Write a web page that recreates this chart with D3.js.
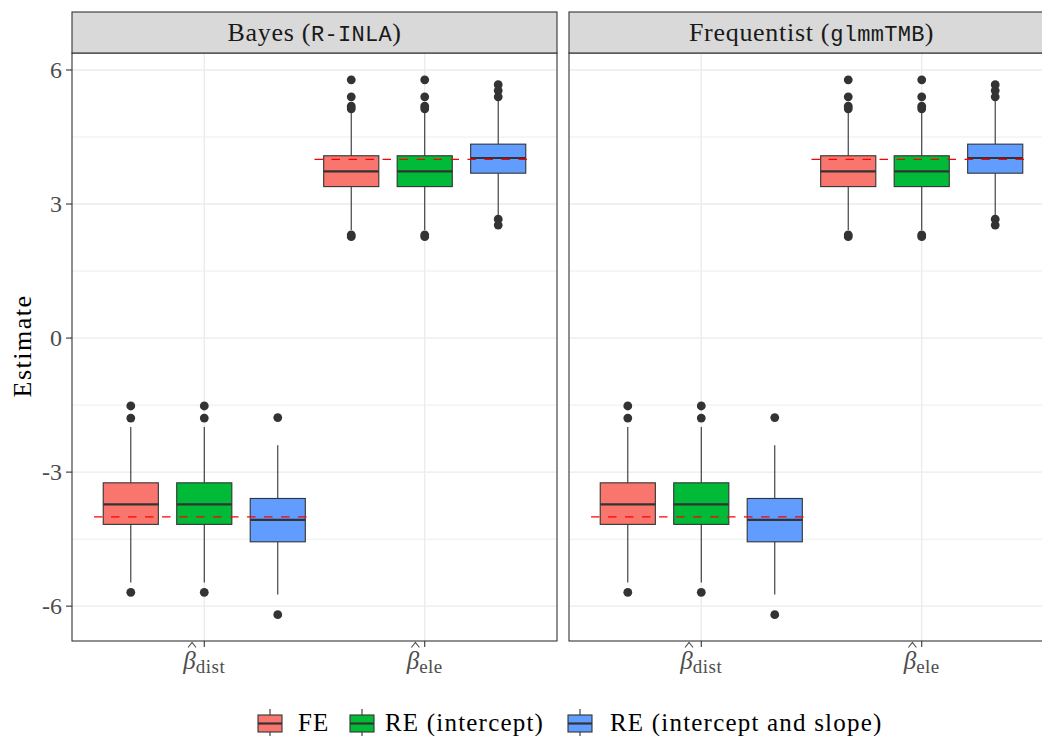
<!DOCTYPE html>
<html>
<head>
<meta charset="utf-8">
<script src="https://cdn.jsdelivr.net/npm/d3@7"></script>
<style>
  html, body { margin: 0; padding: 0; background: #fff; }
  svg { display: block; }
</style>
</head>
<body>
<svg id="chart" width="1042" height="736"></svg>
<script>
// ---------------- data ----------------
const panelTitles = ["Bayes (", "Frequentist ("];
const panelCodes = ["R-INLA", "glmmTMB"];
const categories = ["dist", "ele"];
const methods = ["FE", "RE (intercept)", "RE (intercept and slope)"];
const methodColors = ["#F8766D", "#00BA38", "#619CFF"];
const trueValues = [-4, 4];
const yTicks = [-6, -3, 0, 3, 6];
const yTickLabels = ["-6", "-3", "0", "3", "6"];
const yMinor = [-4.5, -1.5, 1.5, 4.5];

// box statistics per category (rows) and method (columns)
const whiskerLow = [[-5.47, -5.47, -5.74], [2.42, 2.42, 2.72]];
const q1 = [[-4.17, -4.17, -4.56], [3.39, 3.39, 3.69]];
const median = [[-3.72, -3.72, -4.07], [3.73, 3.73, 4.03]];
const q3 = [[-3.24, -3.24, -3.59], [4.08, 4.08, 4.34]];
const whiskerHigh = [[-1.99, -1.99, -2.40], [5.07, 5.07, 5.33]];
const outliers = [
  [[-1.52, -1.79, -5.69], [-1.52, -1.79, -5.69], [-1.78, -6.19]],
  [[5.78, 5.40, 5.19, 5.13, 2.31, 2.27], [5.78, 5.40, 5.19, 5.13, 2.31, 2.27], [5.67, 5.54, 5.40, 2.66, 2.53]]
];

// ---------------- layout ----------------
const svg = d3.select("#chart");
const serif = "'Liberation Serif', 'DejaVu Serif', serif";
const mono = "'Liberation Mono', 'DejaVu Sans Mono', monospace";
const panelTop = 53, panelBottom = 641, stripTop = 12, panelW = 485;
const panelX = [72, 569];

const y = d3.scaleLinear().domain([-6.78, 6.38]).range([panelBottom, panelTop]);

svg.append("rect").attr("width", 1042).attr("height", 736).attr("fill", "#fff");

panelX.forEach((x0, p) => {
  const x = d3.scaleLinear().domain([0.4, 2.6]).range([x0, x0 + panelW]);
  const unit = x(1) - x(0);
  const g = svg.append("g");

  g.append("rect").attr("x", x0).attr("y", panelTop).attr("width", panelW)
    .attr("height", panelBottom - panelTop).attr("fill", "#fff");

  // grid
  g.selectAll(".minor").data(yMinor).join("line")
    .attr("x1", x0).attr("x2", x0 + panelW)
    .attr("y1", d => y(d)).attr("y2", d => y(d))
    .attr("stroke", "#EBEBEB").attr("stroke-width", 0.9);
  g.selectAll(".major").data(yTicks).join("line")
    .attr("x1", x0).attr("x2", x0 + panelW)
    .attr("y1", d => y(d)).attr("y2", d => y(d))
    .attr("stroke", "#EBEBEB").attr("stroke-width", 1.3);
  g.selectAll(".vmajor").data(categories).join("line")
    .attr("x1", (d, i) => x(i + 1)).attr("x2", (d, i) => x(i + 1))
    .attr("y1", panelTop).attr("y2", panelBottom)
    .attr("stroke", "#EBEBEB").attr("stroke-width", 1.3);

  // boxes
  categories.forEach((c, ci) => {
    methods.forEach((m, mi) => {
      const cx = x(ci + 1 + (mi - 1) / 3);
      const hw = unit * 0.125;
      g.append("line").attr("x1", cx).attr("x2", cx)
        .attr("y1", y(q3[ci][mi])).attr("y2", y(whiskerHigh[ci][mi]))
        .attr("stroke", "#333").attr("stroke-width", 1.1);
      g.append("line").attr("x1", cx).attr("x2", cx)
        .attr("y1", y(q1[ci][mi])).attr("y2", y(whiskerLow[ci][mi]))
        .attr("stroke", "#333").attr("stroke-width", 1.1);
      g.append("rect").attr("x", cx - hw).attr("width", 2 * hw)
        .attr("y", y(q3[ci][mi])).attr("height", y(q1[ci][mi]) - y(q3[ci][mi]))
        .attr("fill", methodColors[mi]).attr("stroke", "#333").attr("stroke-width", 1.1);
      g.append("line").attr("x1", cx - hw).attr("x2", cx + hw)
        .attr("y1", y(median[ci][mi])).attr("y2", y(median[ci][mi]))
        .attr("stroke", "#333").attr("stroke-width", 2.2);
      g.selectAll(null).data(outliers[ci][mi]).join("circle")
        .attr("cx", cx).attr("cy", d => y(d)).attr("r", 4.4).attr("fill", "#333");
    });
    g.append("line").attr("x1", x(ci + 0.5)).attr("x2", x(ci + 1.5))
      .attr("y1", y(trueValues[ci])).attr("y2", y(trueValues[ci]))
      .attr("stroke", "#FF0000").attr("stroke-width", 1.2)
      .attr("stroke-dasharray", "8.5,8.5");
  });

  // panel border
  g.append("rect").attr("x", x0).attr("y", panelTop).attr("width", panelW)
    .attr("height", panelBottom - panelTop).attr("fill", "none")
    .attr("stroke", "#333").attr("stroke-width", 1.1);

  // strip
  g.append("rect").attr("x", x0).attr("y", stripTop).attr("width", panelW)
    .attr("height", panelTop - stripTop).attr("fill", "#D9D9D9")
    .attr("stroke", "#333").attr("stroke-width", 1.1);
  const st = g.append("text").attr("x", x0 + panelW / 2).attr("y", 41)
    .attr("text-anchor", "middle").attr("fill", "#1A1A1A")
    .attr("font-family", serif).attr("font-size", 26).attr("letter-spacing", 0.7);
  st.append("tspan").text(panelTitles[p]);
  st.append("tspan").attr("font-family", mono).attr("font-size", 22).attr("letter-spacing", 0.3).text(panelCodes[p]);
  st.append("tspan").text(")");

  // x ticks and labels
  categories.forEach((c, ci) => {
    const cx = x(ci + 1);
    g.append("line").attr("x1", cx).attr("x2", cx).attr("y1", panelBottom).attr("y2", panelBottom + 6)
      .attr("stroke", "#333").attr("stroke-width", 1.1);
    const t = g.append("text").attr("x", cx).attr("y", 669).attr("text-anchor", "middle")
      .attr("fill", "#4D4D4D").attr("font-family", serif).attr("font-size", 25);
    t.append("tspan").attr("font-style", "italic").text("\u03B2");
    t.append("tspan").attr("font-size", 19).attr("dy", 4).attr("letter-spacing", 0.5).text(c);
    const ext = t.node().getExtentOfChar(0);
    const hx = ext.x + ext.width / 2 + 2.5;
    g.append("path")
      .attr("d", d3.line()([[hx - 4, 647.5], [hx, 642.5], [hx + 4, 647.5]]))
      .attr("fill", "none").attr("stroke", "#4D4D4D").attr("stroke-width", 1.1);
  });
});

// y axis (left panel only)
const ya = svg.append("g");
ya.selectAll("line").data(yTicks).join("line")
  .attr("x1", 66).attr("x2", 72).attr("y1", d => y(d)).attr("y2", d => y(d))
  .attr("stroke", "#333").attr("stroke-width", 1.1);
ya.selectAll("text").data(yTicks).join("text")
  .attr("x", 62).attr("y", d => y(d) + 8).attr("text-anchor", "end")
  .attr("fill", "#4D4D4D").attr("font-family", serif).attr("font-size", 24)
  .text((d, i) => yTickLabels[i]);

svg.append("text").attr("transform", "translate(31,346) rotate(-90)")
  .attr("text-anchor", "middle").attr("fill", "#000")
  .attr("font-family", serif).attr("font-size", 26).attr("letter-spacing", 1.5).text("Estimate");

// legend
const keyX = [258, 350, 568];
const textX = [298, 385, 610];
const lg = svg.append("g");
methods.forEach((m, i) => {
  const kx = keyX[i];
  lg.append("line").attr("x1", kx + 12).attr("x2", kx + 12).attr("y1", 709).attr("y2", 740)
    .attr("stroke", "#333").attr("stroke-width", 1.1);
  lg.append("rect").attr("x", kx).attr("y", 715).attr("width", 24).attr("height", 17)
    .attr("fill", methodColors[i]).attr("stroke", "#333").attr("stroke-width", 1.1);
  lg.append("line").attr("x1", kx).attr("x2", kx + 24).attr("y1", 723.5).attr("y2", 723.5)
    .attr("stroke", "#333").attr("stroke-width", 2.2);
  lg.append("text").attr("x", textX[i]).attr("y", 731)
    .attr("fill", "#000").attr("font-family", serif).attr("font-size", 25)
    .attr("letter-spacing", 1.2).text(m);
});
</script>
</body>
</html>
